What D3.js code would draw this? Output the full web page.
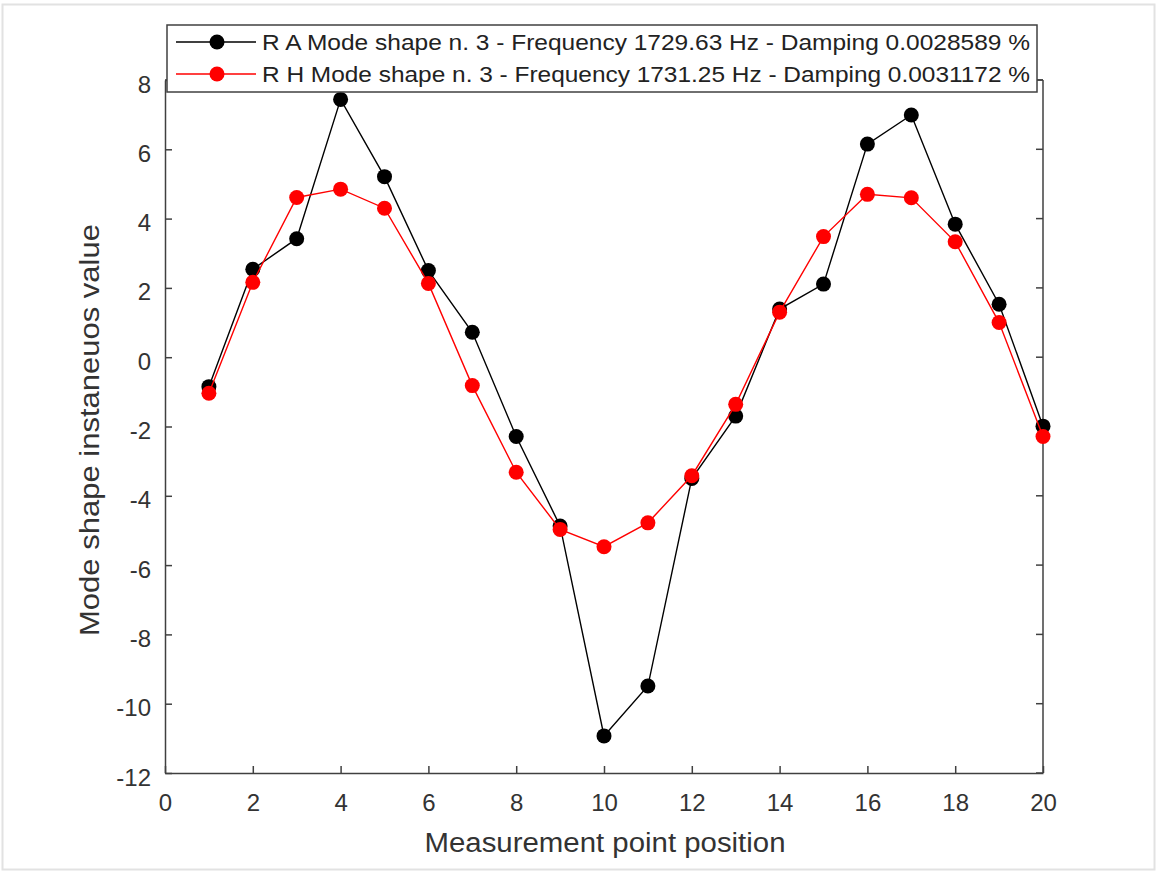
<!DOCTYPE html>
<html><head><meta charset="utf-8">
<script src="https://cdn.jsdelivr.net/npm/d3@7"></script>
<style>body{margin:0;background:#fff}svg{display:block;font-family:"Liberation Sans",Arial,sans-serif}</style>
</head><body>
<svg id="c" width="1158" height="874"></svg>
<script>
const positions = [1,2,3,4,5,6,7,8,9,10,11,12,13,14,15,16,17,18,19,20];
const seriesRA = [-0.85,2.54,3.42,7.44,5.21,2.50,0.72,-2.29,-4.87,-10.93,-9.49,-3.50,-1.70,1.39,2.11,6.15,6.99,3.84,1.53,-1.99];
const seriesRH = [-1.04,2.16,4.61,4.85,4.30,2.13,-0.82,-3.32,-4.97,-5.47,-4.78,-3.42,-1.36,1.30,3.48,4.70,4.60,3.33,1.00,-2.29];
const seriesNames = ["R A Mode shape n. 3 - Frequency 1729.63 Hz - Damping 0.0028589 %",
                     "R H Mode shape n. 3 - Frequency 1731.25 Hz - Damping 0.0031172 %"];
const seriesColors = ["#000000","#ff0000"];
const xTicks = [0,2,4,6,8,10,12,14,16,18,20];
const yTicks = [-12,-10,-8,-6,-4,-2,0,2,4,6,8];

const svg = d3.select("#c");
// outer frame
svg.append("rect").attr("x",2.5).attr("y",4.5).attr("width",1152).attr("height",865)
  .attr("fill","#fff").attr("stroke","#e2e2e2").attr("stroke-width",2);

const L=165, R=1043, T=80, B=773;
const x = d3.scaleLinear().domain([0,20]).range([L,R]);
const y = d3.scaleLinear().domain([-12,8]).range([B,T]);
const axisColor = "#404040";
const fmt = d => String(d);

const xAx = svg.append("g").attr("transform",`translate(0,${B})`)
  .call(d3.axisBottom(x).tickValues(xTicks).tickFormat(fmt).tickSizeInner(-7).tickSizeOuter(0).tickPadding(21));
const yAx = svg.append("g").attr("transform",`translate(${L},0)`)
  .call(d3.axisLeft(y).tickValues(yTicks).tickFormat(fmt).tickSizeInner(-7).tickSizeOuter(0).tickPadding(14));
[xAx,yAx].forEach(g=>{
  g.select(".domain").attr("stroke",axisColor).attr("stroke-width",1.5);
  g.selectAll(".tick line").attr("stroke",axisColor).attr("stroke-width",1.5);
  g.selectAll(".tick text").attr("fill","#333").attr("font-size",24).attr("font-family","Liberation Sans, Arial, sans-serif");
});
yAx.selectAll(".tick text").attr("dy","0.5em");
// top and right box lines
svg.append("line").attr("x1",L).attr("x2",R).attr("y1",T).attr("y2",T).attr("stroke",axisColor).attr("stroke-width",1.5);
svg.append("line").attr("x1",R).attr("x2",R).attr("y1",T).attr("y2",B).attr("stroke",axisColor).attr("stroke-width",1.5);
// right ticks
svg.append("g").selectAll("line").data(yTicks).join("line")
  .attr("x1",R).attr("x2",R-7).attr("y1",d=>y(d)).attr("y2",d=>y(d)).attr("stroke",axisColor).attr("stroke-width",1.5);

const line = d3.line().x((d,i)=>x(positions[i])).y(d=>y(d));
[seriesRA, seriesRH].forEach((s,k)=>{
  svg.append("path").datum(s).attr("d",line).attr("fill","none")
    .attr("stroke",seriesColors[k]).attr("stroke-width",1.4);
  svg.append("g").selectAll("circle").data(s).join("circle")
    .attr("cx",(d,i)=>x(positions[i])).attr("cy",d=>y(d)).attr("r",7.5).attr("fill",seriesColors[k]);
});

// axis labels
svg.append("text").attr("x",605).attr("y",852).attr("text-anchor","middle")
  .attr("font-size",27).attr("fill","#333").attr("textLength",361).attr("lengthAdjust","spacingAndGlyphs")
  .text("Measurement point position");
svg.append("text").attr("transform",`translate(99,430) rotate(-90)`).attr("text-anchor","middle")
  .attr("font-size",27).attr("fill","#333").attr("textLength",412).attr("lengthAdjust","spacingAndGlyphs")
  .text("Mode shape instaneuos value");

// legend
const lg = svg.append("g");
lg.append("rect").attr("x",167).attr("y",25).attr("width",870).attr("height",67)
  .attr("fill","#fff").attr("stroke",axisColor).attr("stroke-width",1.5);
seriesNames.forEach((n,k)=>{
  const yy = 42 + k*32;
  lg.append("line").attr("x1",176).attr("x2",256).attr("y1",yy).attr("y2",yy).attr("stroke",seriesColors[k]).attr("stroke-width",1.4);
  lg.append("circle").attr("cx",217).attr("cy",yy).attr("r",7.5).attr("fill",seriesColors[k]);
  lg.append("text").attr("x",262).attr("y",yy+8).attr("font-size",22).attr("fill","#222")
    .attr("textLength",768).attr("lengthAdjust","spacingAndGlyphs").text(n);
});
</script>
</body></html>
